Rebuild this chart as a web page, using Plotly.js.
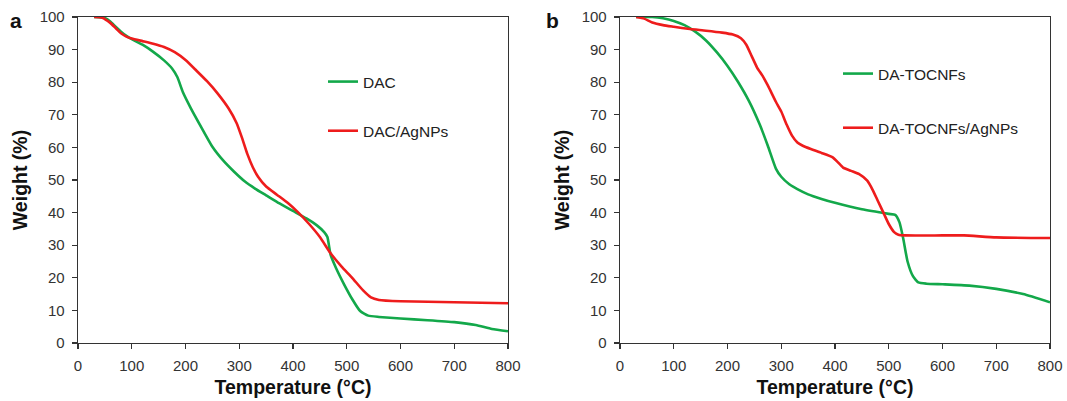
<!DOCTYPE html>
<html>
<head>
<meta charset="utf-8">
<script src="https://cdn.plot.ly/plotly-3.0.1.min.js"></script>
<style>html,body{margin:0;padding:0;background:#fff;}#chart{width:1067px;height:401px;}</style>
</head>
<body>
<div id="chart"></div>
<script>
// Panel a
var dacT = [30,50,60,70,80,90,100,120,140,160,175,185,195,210,230,250,270,290,310,330,350,375,400,425,445,458,464,470,480,495,510,525,540,560,600,650,700,740,770,800];
var dacW = [100,99.7,98.6,97,95.5,94.2,93.2,91.5,89.3,86.7,84.2,81.5,77,72,66,60.2,56,52.6,49.6,47.3,45.3,42.8,40.5,38.2,36,34,32.5,27,23,18,13.5,9.8,8.4,8,7.5,7,6.4,5.5,4.3,3.6];
var dacAgT = [30,45,60,70,80,90,100,120,140,160,180,200,220,240,260,280,295,305,315,325,335,350,370,390,410,430,450,470,490,510,530,545,560,600,700,800];
var dacAgW = [100,99.8,98.2,96.6,95,94,93.4,92.6,91.8,90.8,89.2,86.8,83.6,80.3,76.5,72,67.5,63,58,54,51,48,45.5,43,40,36.5,32.5,27.5,23.5,20,16.2,14,13.2,12.8,12.5,12.2];
// Panel b
var tocT = [30,60,80,100,120,140,160,180,200,220,240,260,275,290,300,315,330,350,375,400,450,500,512,520,527,535,545,555,570,600,650,700,750,800];
var tocW = [100,100,99.6,98.8,97.5,95.5,92.8,89.2,85,80,74.2,67,60.5,53.5,51,48.7,47.2,45.6,44.2,43,41,39.6,39.3,37,32,25,20.5,18.6,18.2,18,17.6,16.6,15,12.5];
var tocAgT = [30,45,60,80,100,130,160,190,210,225,235,245,255,265,275,290,300,310,320,330,340,355,375,395,405,415,430,445,460,470,480,490,500,510,518,530,600,640,700,800];
var tocAgW = [100,99.5,98.3,97.5,97,96.3,95.8,95.2,94.6,93.5,91.5,88,84.5,82,79,74,71,67,63.6,61.5,60.5,59.5,58.3,57,55.5,53.8,52.8,51.8,49.8,47,43.5,40,36.5,34,33.2,33,33,33,32.4,32.2];

var xTicks = [0,100,200,300,400,500,600,700,800];
var yTicks = [0,10,20,30,40,50,60,70,80,90,100];
var panelLabels = ['a','b'];

var GREEN = '#13a84a', RED = '#ee1c1c';
var FONT = 'Liberation Sans, Arial, sans-serif';

function tr(x, y, name, color, xa, ya, leg) {
  return {x: x, y: y, name: name, type: 'scatter', mode: 'lines',
    line: {color: color, width: 2.6, shape: 'spline', smoothing: 0.5},
    xaxis: xa, yaxis: ya, legend: leg, legendgroup: name, hoverinfo: 'x+y'};
}

var data = [
  tr(dacT, dacW, 'DAC', GREEN, 'x', 'y', 'legend'),
  tr(dacAgT, dacAgW, 'DAC/AgNPs', RED, 'x', 'y', 'legend'),
  tr(tocT, tocW, 'DA-TOCNFs', GREEN, 'x2', 'y2', 'legend2'),
  tr(tocAgT, tocAgW, 'DA-TOCNFs/AgNPs', RED, 'x2', 'y2', 'legend2')
];

function xax(dom, anchor) {
  return {domain: dom, anchor: anchor, range: [0, 800], tickvals: xTicks, ticktext: xTicks.map(String),
    ticks: 'outside', ticklen: 5, tickwidth: 1.3, tickcolor: '#333', showline: true, linecolor: '#333', linewidth: 1.3,
    mirror: true, showgrid: false, zeroline: false, fixedrange: true, ticklabelstandoff: 4,
    tickfont: {family: FONT, size: 15, color: '#333'},
    title: {text: 'Temperature (°C)', standoff: 7, font: {family: FONT, size: 19.5, color: '#111', weight: 'bold'}}};
}
function yax(dom, anchor) {
  return {domain: dom, anchor: anchor, range: [0, 100], tickvals: yTicks, ticktext: yTicks.map(String),
    ticks: 'outside', ticklen: 5, tickwidth: 1.3, tickcolor: '#333', showline: true, linecolor: '#333', linewidth: 1.3,
    mirror: true, showgrid: false, zeroline: false, fixedrange: true, ticklabelstandoff: 4,
    tickfont: {family: FONT, size: 15, color: '#333'},
    title: {text: 'Weight (%)', standoff: 6, font: {family: FONT, size: 19.5, color: '#111', weight: 'bold'}}};
}

var yDom = [(401 - 343) / 401, (401 - 17) / 401];
var layout = {
  width: 1067, height: 401,
  margin: {l: 0, r: 0, t: 0, b: 0},
  paper_bgcolor: '#fff', plot_bgcolor: '#fff',
  showlegend: true,
  xaxis: xax([78 / 1067, 508 / 1067], 'y'),
  yaxis: yax(yDom, 'x'),
  xaxis2: xax([620 / 1067, 1050 / 1067], 'y2'),
  yaxis2: yax(yDom, 'x2'),
  legend: {x: 323 / 1067, y: (401 - 65) / 401, xanchor: 'left', yanchor: 'top', bgcolor: 'rgba(0,0,0,0)',
    tracegroupgap: 26, traceorder: 'grouped', font: {family: FONT, size: 15.5, color: '#222'}},
  legend2: {x: 838 / 1067, y: (401 - 57) / 401, xanchor: 'left', yanchor: 'top', bgcolor: 'rgba(0,0,0,0)',
    tracegroupgap: 31, traceorder: 'grouped', font: {family: FONT, size: 15.5, color: '#222'}},
  annotations: [
    {text: panelLabels[0], x: 8 / 1067, y: (401 - 20) / 401, xref: 'paper', yref: 'paper', xanchor: 'left', yanchor: 'middle',
      showarrow: false, font: {family: FONT, size: 21, color: '#111', weight: 'bold'}},
    {text: panelLabels[1], x: 544 / 1067, y: (401 - 20) / 401, xref: 'paper', yref: 'paper', xanchor: 'left', yanchor: 'middle',
      showarrow: false, font: {family: FONT, size: 21, color: '#111', weight: 'bold'}}
  ]
};

Plotly.newPlot('chart', data, layout, {displayModeBar: false, staticPlot: true});
</script>
</body>
</html>
